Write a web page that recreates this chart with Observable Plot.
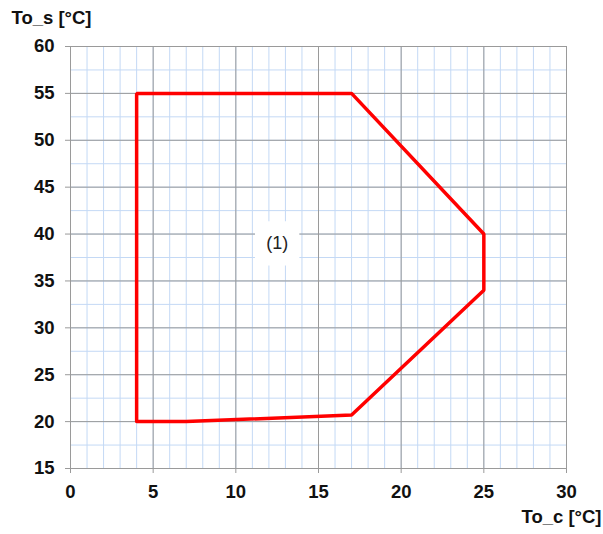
<!DOCTYPE html>
<html>
<head>
<meta charset="utf-8">
<script src="https://cdn.jsdelivr.net/npm/d3@7"></script>
<script src="https://cdn.jsdelivr.net/npm/@observablehq/plot@0.6"></script>
<style>
  html, body { margin: 0; padding: 0; background: #fff; }
</style>
</head>
<body>
<div id="chart"></div>
<script>
// Envelope boundary (To_c, To_s)
const toC = [4, 4, 17, 25, 25, 17, 7, 4];
const toS = [20, 55, 55, 40, 34, 20.7, 20, 20];

// Tick labels
const xTicks = [0, 5, 10, 15, 20, 25, 30];
const yTicks = [15, 20, 25, 30, 35, 40, 45, 50, 55, 60];
const xMinor = d3.range(0, 30.01, 1);
const yMinor = d3.range(15, 60.01, 2.5);

// Region label
const regionLabels = ["(1)"];
const regionX = [12.5];
const regionY = [39];

const axisTitleX = "To_c [°C]";
const axisTitleY = "To_s [°C]";

const polygon = toC.map((x, i) => ({x, y: toS[i]}));
const labels = regionLabels.map((t, i) => ({t, x: regionX[i], y: regionY[i]}));

const font = "'Liberation Sans', Arial, sans-serif";

const chart = Plot.plot({
  width: 603,
  height: 534,
  marginLeft: 70,
  marginRight: 37,
  marginTop: 46,
  marginBottom: 66,
  style: {fontFamily: font, background: "white"},
  x: {domain: [0, 30]},
  y: {domain: [15, 60]},
  marks: [
    Plot.ruleX(xMinor, {stroke: "#c4d9f5", strokeWidth: 1}),
    Plot.ruleY(yMinor, {stroke: "#c4d9f5", strokeWidth: 1}),
    Plot.ruleX(xTicks, {stroke: "#9a9a9a", strokeWidth: 1}),
    Plot.ruleY(yTicks, {stroke: "#9a9a9a", strokeWidth: 1}),
    Plot.axisX({ticks: xTicks, tickSize: 5, tickPadding: 11, stroke: "#9a9a9a", fill: "#111", fontSize: 18.5, fontWeight: "bold", label: null}),
    Plot.axisY({ticks: yTicks, tickSize: 5, tickPadding: 11, stroke: "#9a9a9a", fill: "#111", fontSize: 18.5, fontWeight: "bold", label: null}),
    Plot.line(polygon, {x: "x", y: "y", stroke: "#ff0000", strokeWidth: 3.5, strokeLinejoin: "miter"}),
    Plot.dot(labels, {x: "x", y: "y", symbol: "square", r: 25, fill: "white", stroke: "none"}),
    Plot.text(labels, {x: "x", y: "y", text: "t", fontSize: 18, fill: "#222"}),
    Plot.text([axisTitleY], {frameAnchor: "top-left", dx: -59, dy: -36, fontSize: 18.5, fontWeight: "bold", fill: "#111", textAnchor: "start", lineAnchor: "top"}),
    Plot.text([axisTitleX], {frameAnchor: "bottom-right", dx: 35, dy: 49, fontSize: 18.5, fontWeight: "bold", fill: "#111", textAnchor: "end", lineAnchor: "middle"})
  ]
});
document.getElementById("chart").appendChild(chart);
</script>
</body>
</html>
